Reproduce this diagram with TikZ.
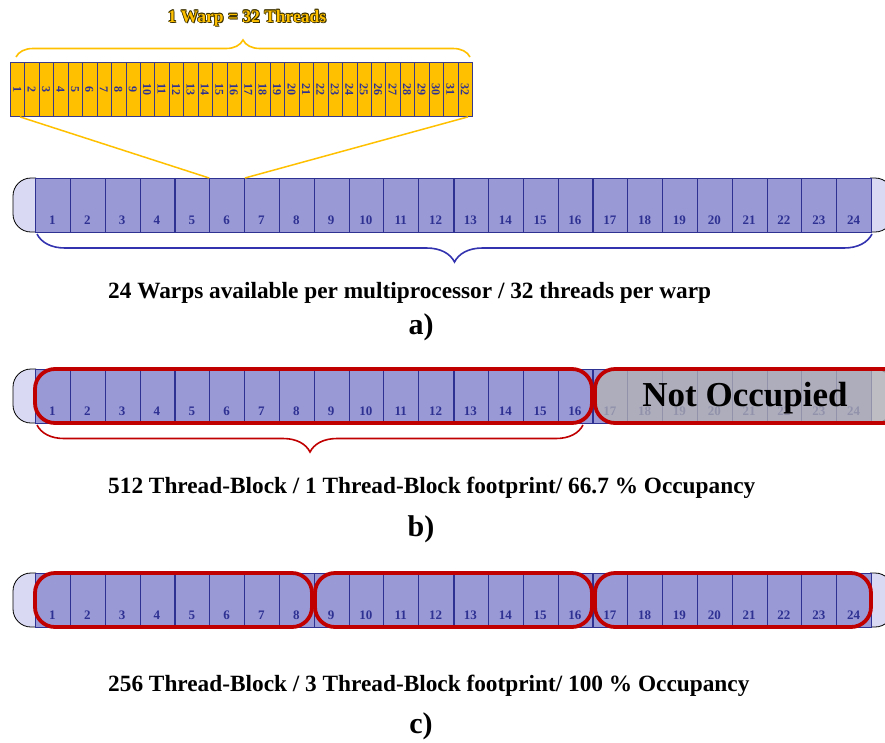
\documentclass[tikz,border=0pt]{standalone}
\usepackage{fontspec}
\setmainfont{Liberation Serif}
\usetikzlibrary{decorations.pathreplacing}
\definecolor{cellfill}{HTML}{9999D6}
\definecolor{cellline}{HTML}{2E3192}
\definecolor{capfill}{HTML}{D9D9F3}
\definecolor{warpfill}{HTML}{FFC000}
\definecolor{warpline}{HTML}{3A3A8A}
\definecolor{occred}{HTML}{C00000}
\definecolor{braceblue}{HTML}{3333B0}
\definecolor{notocc}{HTML}{B4B4B4}
\definecolor{titledark}{HTML}{3A3000}
\tikzset{
  cellbox/.style={draw=cellline, fill=cellfill, line width=0.9pt, inner sep=0pt,
    minimum width=34.8333pt, minimum height=54pt, anchor=north west},
  cellnum/.style={text=cellline, font=\bfseries\fontsize{13}{15}\selectfont, inner sep=0pt},
  capbox/.style={draw=black, fill=capfill, line width=0.8pt, rounded corners=18pt},
  warpcell/.style={draw=warpline, fill=warpfill, line width=0.9pt, inner sep=0pt,
    minimum width=14.4375pt, minimum height=54pt, anchor=north west},
  warpnum/.style={text=cellline, font=\bfseries\fontsize{12}{14}\selectfont, inner sep=0pt, rotate=-90},
  occbox/.style={draw=occred, line width=3.8pt, rounded corners=20pt},
  bracestyle/.style={decorate, line width=1.6pt},
  caption/.style={font=\bfseries\fontsize{23.3}{27}\selectfont, inner sep=0pt, anchor=west},
  sublabel/.style={font=\bfseries\fontsize{30}{34}\selectfont, inner sep=0pt},
  titletext/.style={font=\bfseries\fontsize{17.5}{20}\selectfont, inner sep=0pt},
}
\newcommand{\threadrow}[2]{%
  \filldraw[capbox] (36,#2) -- (13,#2) -- (13,#2+54) -- (36,#2+54);
  \filldraw[capbox] (870,#2) -- (893,#2) -- (893,#2+54) -- (870,#2+54);
  \foreach \i in {1,...,24} {
    \node[cellbox] (#1\i) at ({35+(\i-1)*34.8333},#2) {};
    \node[cellnum] (#1n\i) at ({35+(\i-0.5)*34.8333},#2+42) {\i};
  }
  \foreach \j in {4,8,12,16,20} {
    \draw[cellline, line width=1.6pt] (#1\j.north east) -- (#1\j.south east);
  }
}
\begin{document}
\begin{tikzpicture}[x=1pt,y=-1pt]
\useasboundingbox (0,0) rectangle (885,742);
\clip (0,0) rectangle (885,742);

% ---- title and warp
\foreach \dx/\dy [count=\k] in {0.7/0, -0.7/0, 0/0.7, 0/-0.7, 0.9/0.9, 0.5/-0.5, -0.5/0.5, -0.5/-0.5} {
  \node[titletext, text=titledark] (ts\k) at (247+\dx,18+\dy) {1 Warp = 32 Threads};
}
\node[titletext, text=warpfill] (title) at (247,18) {1 Warp = 32 Threads};

\foreach \i in {1,...,32} {
  \node[warpcell] (w\i) at ({10+(\i-1)*14.4375},62) {};
  \node[warpnum] (wn\i) at ({10+(\i-0.5)*14.4375},89) {\i};
}
\coordinate (wbl) at (16,57);
\coordinate (wbr) at (470,57);
\draw[bracestyle, warpfill, decoration={brace, amplitude=17pt}] (wbl) -- (wbr);

% ---- row a
\threadrow{a}{178}
\draw[warpfill, line width=1.5pt] ([xshift=10pt]w1.south west) -- (a6.north west);
\draw[warpfill, line width=1.5pt] ([xshift=-5pt]w32.south east) -- (a6.north east);
\coordinate (bar) at (872,234);
\coordinate (bal) at (37,234);
\draw[bracestyle, braceblue, decoration={brace, amplitude=28pt}] (bar) -- (bal);
\node[caption] (capa) at (108,293) {24 Warps available per multiprocessor / 32 threads per warp};
\node[sublabel] (la) at (421,327) {a)};

% ---- row b
\threadrow{b}{369}
\draw[occbox] (35,369) rectangle (592,423);
\draw[occbox, fill=notocc, fill opacity=0.75] (595,369) rectangle (905,423);
\node[font=\bfseries\fontsize{35}{40}\selectfont, inner sep=0pt] (notocc) at (745,398) {Not Occupied};
\coordinate (bbr) at (583,425);
\coordinate (bbl) at (37,425);
\draw[bracestyle, occred, decoration={brace, amplitude=27pt}] (bbr) -- (bbl);
\node[caption] (capb) at (108,488) {512 Thread-Block / 1 Thread-Block footprint/ 66.7 \% Occupancy};
\node[sublabel] (lb) at (421,529) {b)};

% ---- row c
\threadrow{c}{573}
\draw[occbox] (35,573) rectangle (312,627);
\draw[occbox] (315,573) rectangle (592,627);
\draw[occbox] (595,573) rectangle (871,627);
\node[caption] (capc) at (108,686) {256 Thread-Block / 3 Thread-Block footprint/ 100 \% Occupancy};
\node[sublabel] (lc) at (421,726) {c)};
\end{tikzpicture}
\end{document}
